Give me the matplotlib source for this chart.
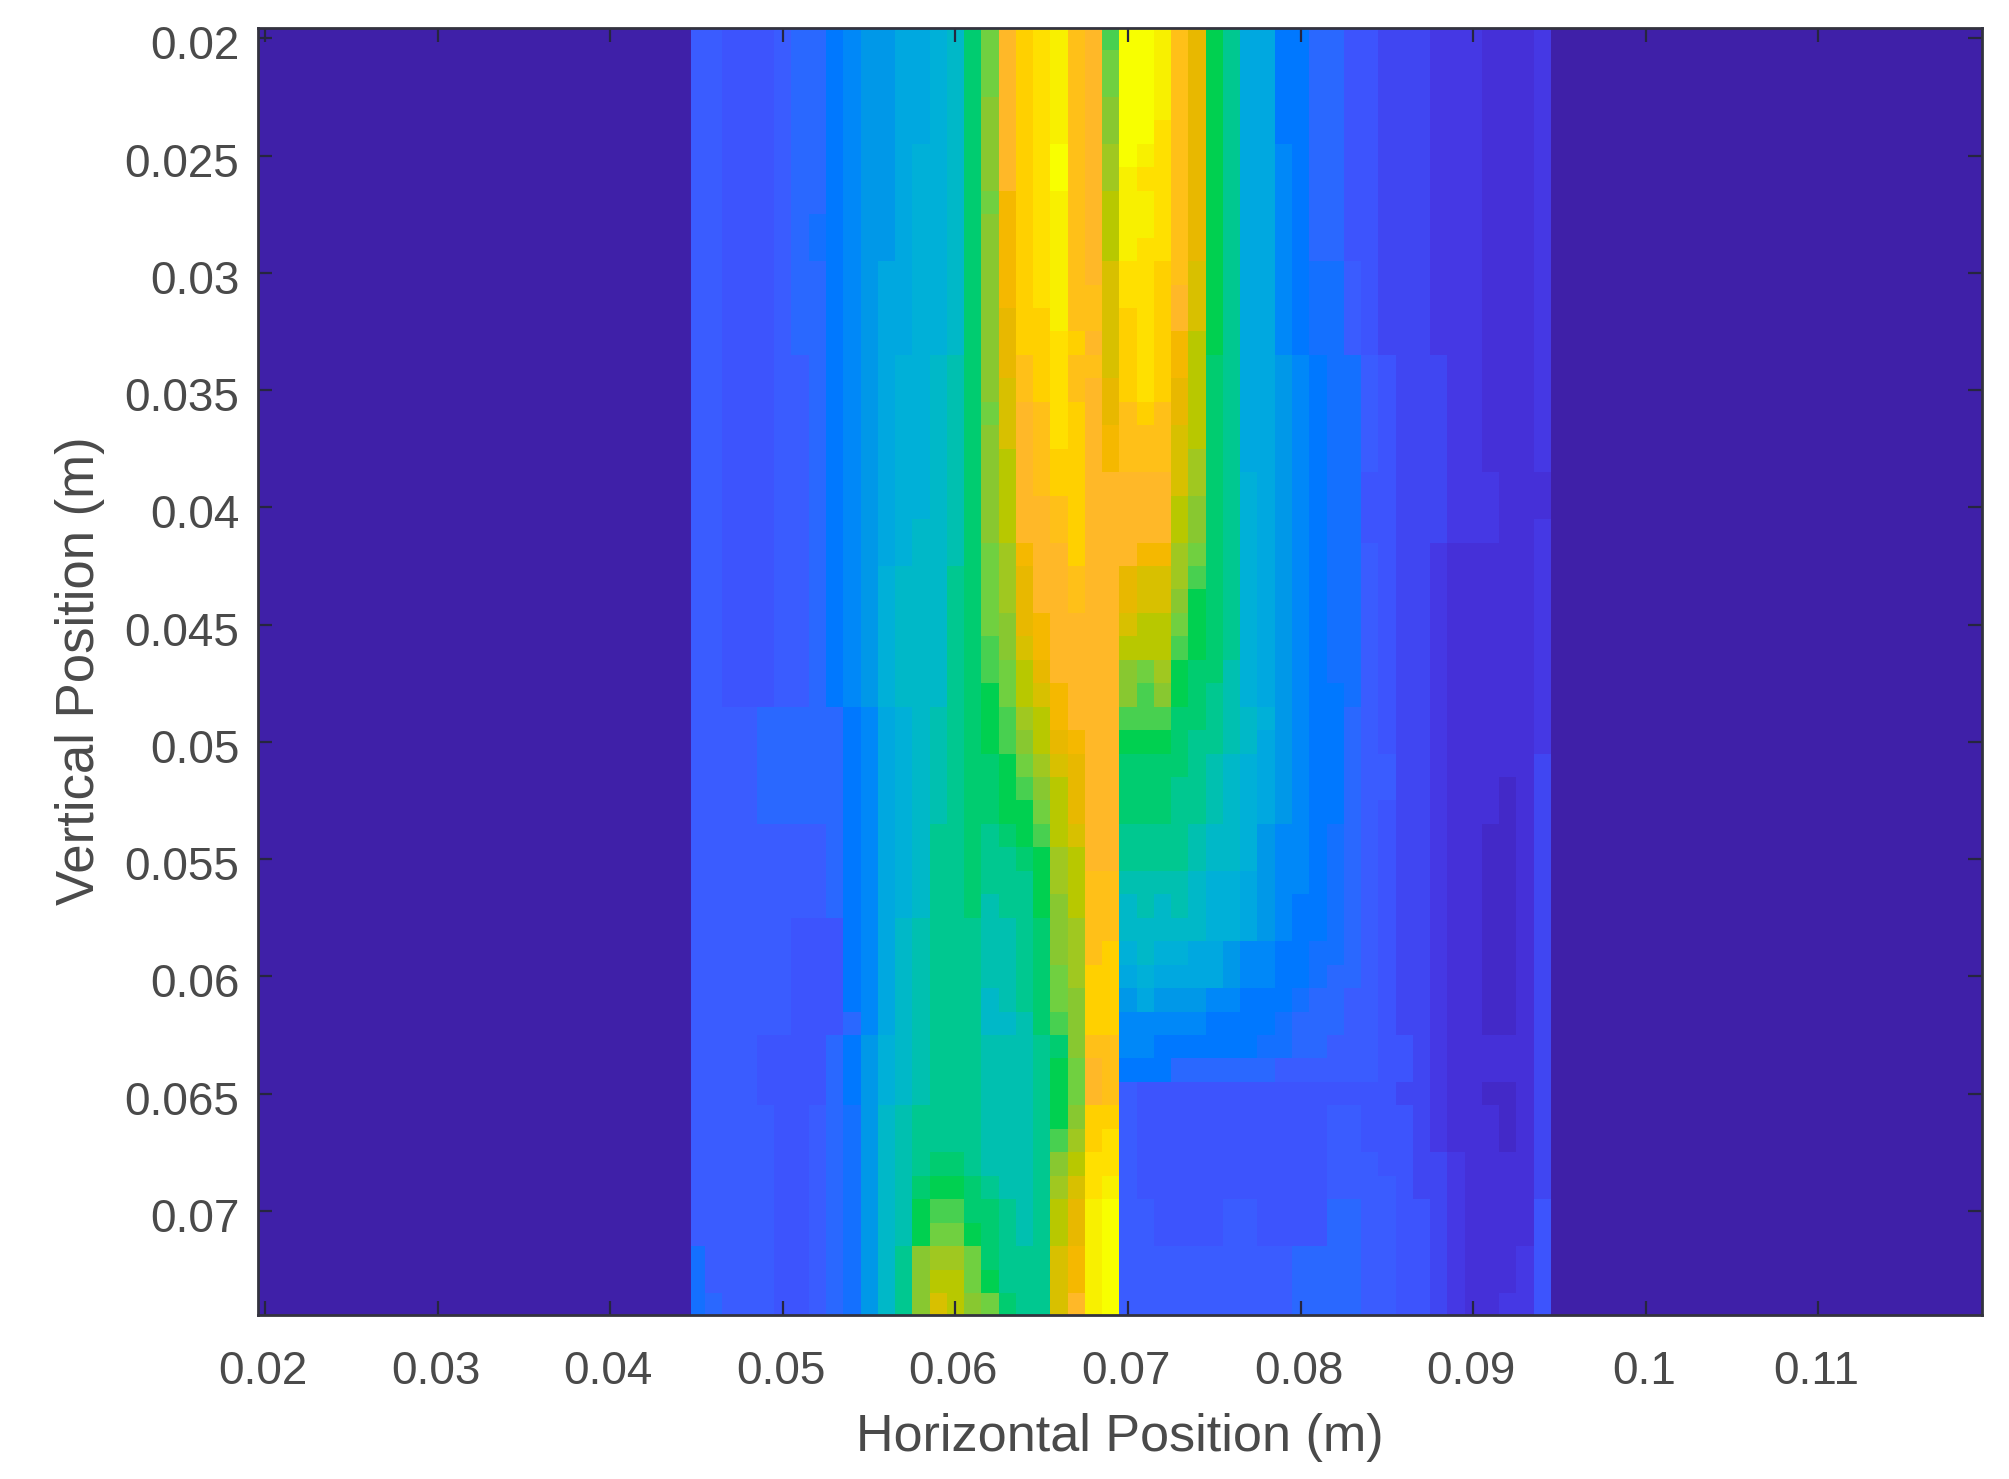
import numpy as np
import matplotlib
matplotlib.use("Agg")
import matplotlib.pyplot as plt
from matplotlib.colors import ListedColormap
from matplotlib.transforms import ScaledTranslation

plt.rcParams['font.family'] = ['Liberation Sans', 'DejaVu Sans']

# colour levels, one letter per level
level_codes = "0123456789abcdefghijklmnopqrstuvw"
level_colors = ["#3F20A8", "#4329C8", "#4530D8", "#4538E4", "#4046F2", "#3D54FD", "#3A5CFF",
                "#2A68FF", "#1470FF", "#0078FF", "#0088F8", "#0098E8", "#00A8E0", "#00B0D8",
                "#00B8C8", "#00C0B0", "#00C890", "#00CC70", "#00D050", "#48D050", "#70D040",
                "#88C830", "#A0C820", "#B8C800", "#D8C000", "#E8B800", "#F5B800", "#FFB828",
                "#FFC018", "#FFD000", "#FFE000", "#F8F000", "#F8FF00"]

# columns 0.045-0.061 m
left_rows = [
    "665556779abbccdeh", "665556779abbccdeh", "665556779abbccdeh", "665556779abbccdeh",
    "665556779abbccdeh", "665556779abbcddeh", "665556779abbcddeh", "665556779abbcddeh",
    "665556789abbcddeh", "665556789abbcddeh", "665556779abccddeh", "665556779abccddeh",
    "665556779abccddeh", "665556779abccddeh", "665556679abcddefh", "665556679abcddefh",
    "665556679abcddefh", "665556679abcddefh", "665556679abcddefh", "665556679abcddefh",
    "665556679abcddefh", "665556679abcdeefh", "665556679abcdeefh", "665556679abdeeegh",
    "665556679abdeeegh", "665556679abdeeegh", "665556679abdeeegh", "665556679abdeeegh",
    "665556679abdeeegh", "6666777779acdefgh", "6666777779acdefgh", "6666777779acdefgh",
    "6666777779acdefgh", "6666777779acdefgh", "6666666679acdeggh", "6666666679acdeggh",
    "6666666679acdeggh", "6666666679acdeggh", "6666665559acefggg", "6666665559acefggg",
    "6666665559acefggg", "6666665559acefggg", "6666665557acefggg", "6666555579bdefggg",
    "6666555579bdefggg", "6666555579bdefggg", "6666655678befgggg", "6666655678befgggg",
    "6666655678befghhg", "6666655678befhiih", "6666655678befijjh", "6666655678befikki",
    "8666655678beglmmk", "8666655678beglnnk", "8766655678beglonl",
]

# columns 0.062-0.075 m
core_rows = [
    "krtuvsrjwwvspi", "krtuvsrkwwvspi", "krtuvsrkwwvspi", "lrtuvsrlwwvspi",
    "lrtuvsrlwwuspi", "lrtuwsrmwvuspi", "lrtuwsrmvuuspi", "kqtuvsrnvvuspi",
    "lqtuvsrnvvuspi", "lqtuvsrnvuuspi", "lqtuvsrouutsoi", "lqtuvssouutroi",
    "lpttvssotutroi", "lpttutrotutqni", "lpstussotutqnh", "lostusrptutpnh",
    "korsutrpstspnh", "lorsutrqsssonh", "lnrsttrqsssomh", "lnrsttrrrrromh",
    "lnrrstrrrrrnlh", "lnrrstrrrrrnlh", "kmqrrtrrrqqmkh", "kmprrsrrpoomjh",
    "kmprrsrrpoolih", "klpqrrrronnkih", "jloqrrrrnnnjih", "jknprrrrlkmihh",
    "iknoqrrrljlihg", "ijmnqrrrjjjhhg", "ijlnpqrriiihgg", "hikmoprrhhhhgf",
    "hijlnprrhhhggf", "hiiknprrhhhggf", "ghijnorrggggfe", "gghimnrrggggfe",
    "gggimnssffffed", "fggilnssefefed", "ffghlmsseeeeed", "ffghlmstdeddcc",
    "ffghkmttcdcccc", "efghklttbcbbba", "eefhjlttaaaaa9", "fffghlssaa9999",
    "fffgikrs999777", "fffgikrs655555", "fffgiltt655555", "fffgjmtu655555",
    "fffglnuu655555", "gffgmouv655555", "hgfgnpvw665555", "hgfgnpvw665555",
    "hgggoqvw666666", "igggoqvw666666", "khggorvw666666",
]

# columns 0.076-0.094 m
right_rows = [
    "gcc9977554443332223", "gcc9977554443332223", "gcc9977554443332223", "gcc9977554443332223",
    "gcc9977554443332223", "gcca977554443332223", "gcca977554443332223", "gcca977554443332223",
    "gcca977554443332223", "gcca977554443332223", "gcca988654443332223", "gcca988654443332223",
    "gcca988654443332223", "gcca988654443332223", "gccba98865444332223", "gccba98865444332223",
    "gccba98865444332223", "gccba98865444332223", "gccba98865444332223", "gdcba98855444333222",
    "gdcba98855444333222", "gdcba98855444333223", "gdcba98865443222223", "gdcba98865443222223",
    "gdcba98865443222223", "gdcba98865443222223", "gdcba98865443222223", "fdcba98865443222223",
    "fdcba99865443222223", "fedba99765443222223", "fecba99765443222223", "edcba99766443222224",
    "edcba99766443222124", "edcba99765443222124", "edbaa98765443221124", "edbaa98765443221124",
    "dcbaa98765443221124", "dcba998765443221124", "dcba998765443221124", "baa9988765443221124",
    "baa9987765443221124", "a999877665443221124", "9998777665443221124", "9988776665543222224",
    "7776666665543222224", "5555555555443221124", "5555556655543222124", "5555556655543222124",
    "5555556665544322224", "5555556666544322224", "6655557766554322225", "6655557766554322225",
    "6666777766554322235", "6666777766554322235", "6666777766554322335",
]

x_ticks = [0.02, 0.03, 0.04, 0.05, 0.06, 0.07, 0.08, 0.09, 0.1, 0.11]
x_labels = ["0.02", "0.03", "0.04", "0.05", "0.06", "0.07", "0.08", "0.09", "0.1", "0.11"]
y_ticks = [0.02, 0.025, 0.03, 0.035, 0.04, 0.045, 0.05, 0.055, 0.06, 0.065, 0.07]
y_labels = ["0.02", "0.025", "0.03", "0.035", "0.04", "0.045", "0.05", "0.055", "0.06", "0.065", "0.07"]

rows = [a + b + c for a, b, c in zip(left_rows, core_rows, right_rows)]
middle = np.array([[level_codes.index(ch) for ch in row] for row in rows], dtype=float)
grid = np.pad(middle, ((0, 0), (25, 25)))

x_edges = 0.0195 + 0.001 * np.arange(101)
x_edges[25] = 0.0447
y_edges = 0.0195 + 0.001 * np.arange(56)

fig = plt.figure(figsize=(20.09, 14.79), dpi=100)
ax = fig.add_axes([258 / 2009, 1 - 1315 / 1479, (1982 - 258) / 2009, (1315 - 28) / 1479])

cmap = ListedColormap(level_colors)
ax.pcolormesh(x_edges, y_edges, grid, cmap=cmap, vmin=-0.5, vmax=len(level_colors) - 0.5,
              antialiased=False, linewidth=0)

ax.set_xlim(0.01959, 0.11948)
ax.set_ylim(0.07444, 0.01956)

ax.set_xticks(x_ticks)
ax.set_xticklabels(x_labels)
ax.set_yticks(y_ticks)
ax.set_yticklabels(y_labels)
ax.tick_params(direction="in", top=True, right=True, length=10, width=1.6,
               color="#262640", labelcolor="#4a4a4a", labelsize=33)
ax.tick_params(axis="x", pad=25)
ax.tick_params(axis="y", pad=13.5)

# nudge the tick labels a little
for lab in ax.get_xticklabels():
    lab.set_transform(lab.get_transform() + ScaledTranslation(-0.02, 0, fig.dpi_scale_trans))
for lab in ax.get_yticklabels():
    lab.set_transform(lab.get_transform() + ScaledTranslation(0, -0.04, fig.dpi_scale_trans))

for side in ax.spines.values():
    side.set_color("#33333f")
    side.set_linewidth(2)

fig.text(1120 / 2009, 1 - 1437 / 1479, "Horizontal Position (m)", fontsize=37.5, color="#4a4a4a",
         ha="center", va="center")
fig.text(80 / 2009, 1 - 671 / 1479, "Vertical Position (m)", fontsize=38, color="#4a4a4a",
         ha="center", va="center", rotation=90)

fig.savefig("out.png", dpi=100)
